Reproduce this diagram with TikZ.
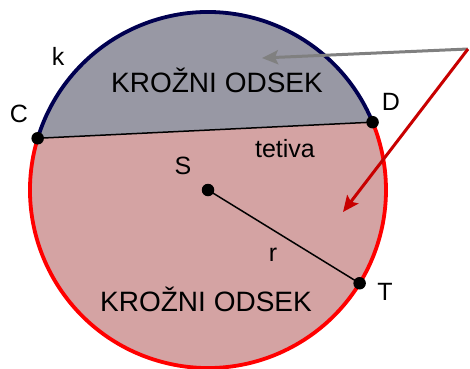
\documentclass[tikz,border=0pt]{standalone}
\usepackage{fontspec}
\setmainfont{Liberation Sans}
\usetikzlibrary{arrows.meta,calc}
\definecolor{segGray}{RGB}{152,152,164}
\definecolor{segPink}{RGB}{212,163,163}
\definecolor{arcNavy}{RGB}{0,0,80}
\definecolor{arcRed}{RGB}{255,0,0}
\definecolor{arrRed}{RGB}{200,0,0}
\definecolor{arrGray}{RGB}{128,128,128}
\tikzset{
  dot/.style={circle,fill=black,inner sep=0pt,minimum size=12.5pt},
  lbl/.style={anchor=base,inner sep=0pt,font=\fontsize{25}{27}\selectfont},
  big/.style={anchor=base,inner sep=0pt,font=\fontsize{28}{30}\selectfont},
  pointer/.style={line width=3pt,-{Stealth[length=16pt,width=14pt,inset=3pt]}},
}
\begin{document}
\begin{tikzpicture}[x=1pt,y=1pt]
\useasboundingbox (0,0) rectangle (470,368);
\coordinate (S) at (208,178);
\coordinate (C) at ($(S)+(163.1:178)$);
\coordinate (D) at ($(S)+(22.4:178)$);
\coordinate (T) at ($(S)+(-31.6:178)$);
\coordinate (A) at (468,319);
\coordinate (G) at (262,310);
\coordinate (R) at (343,156);
% segments
\fill[segPink] (C) arc[start angle=163.1,end angle=382.4,radius=178] -- cycle;
\fill[segGray] (D) arc[start angle=22.4,end angle=163.1,radius=178] -- cycle;
\draw[arcRed,line width=3.8pt] (C) arc[start angle=163.1,end angle=382.4,radius=178];
\draw[arcNavy,line width=3.8pt] (D) arc[start angle=22.4,end angle=163.1,radius=178];
% chord and radius
\draw[line width=1.5pt] (C) -- (D);
\draw[line width=1.5pt] (S) -- (T);
% pointers
\draw[pointer,arrGray] (A) -- (G);
\draw[pointer,arrRed] (A) -- (R);
% dots
\node[dot] (Cd) at (C) {};
\node[dot] (Dd) at (D) {};
\node[dot] (Sd) at (S) {};
\node[dot] (Td) at (T) {};
% texts
\node[big] (up) at (217,276) {KROŽNI ODSEK};
\node[big] (low) at (206,57) {KROŽNI ODSEK};
\node[lbl] (k) at (58,303) {k};
\node[lbl] (Cl) at (19,246) {C};
\node[lbl] (Dl) at (391,258) {D};
\node[lbl] (Sl) at (183,194) {S};
\node[lbl] (tet) at (285,211) {tetiva};
\node[lbl] (rl) at (273,107) {r};
\node[lbl] (Tl) at (385,68) {T};
\end{tikzpicture}
\end{document}
